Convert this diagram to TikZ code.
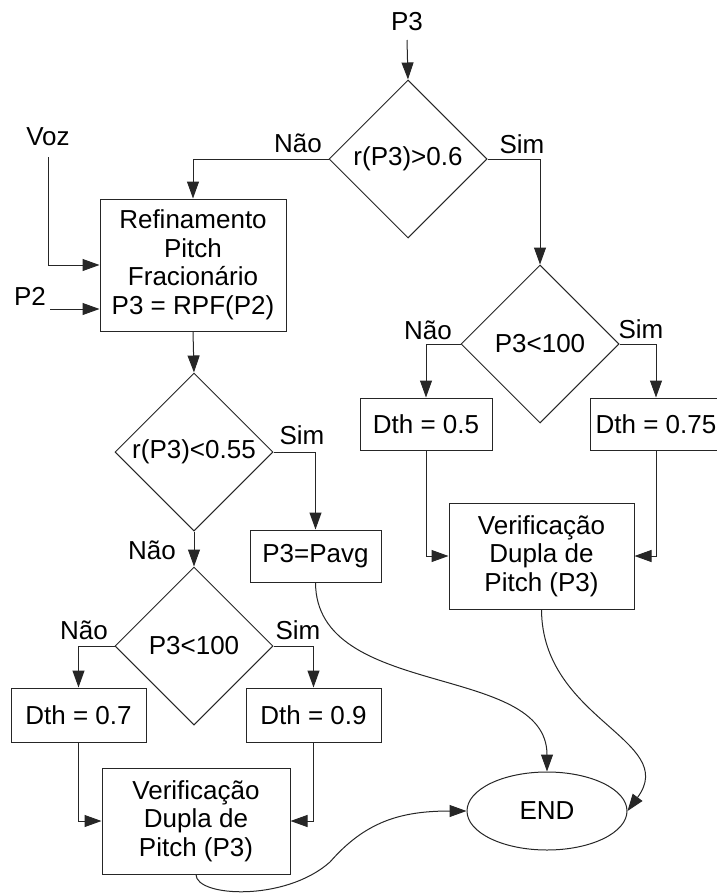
\documentclass[tikz,border=0pt]{standalone}
\usepackage{fontspec}
\setmainfont{Liberation Sans}
\usetikzlibrary{shapes.geometric,arrows.meta}
\begin{document}
\begin{tikzpicture}[x=1pt,y=-1pt,
  every node/.style={font=\fontsize{26}{28.5}\selectfont},
  ln/.style={draw=black!85,line width=1pt},
  arr/.style={ln,-{Triangle[length=17pt,width=12pt]}},
  dec/.style={diamond,ln,aspect=1,inner sep=0pt,minimum width=158pt,minimum height=158pt},
  blk/.style={rectangle,ln,inner sep=0pt,align=center},
  lbl/.style={anchor=base,inner sep=0pt}]
\useasboundingbox (0,0) rectangle (717,894);

% decisions
\node[dec] (d1) at (408,159) {r(P3)>0.6};
\node[dec] (d2) at (540,344) {P3<100};
\node[dec] (d3) at (194,452) {r(P3)<0.55};
\node[dec] (d4) at (194,646) {P3<100};

% process boxes
\node[blk,minimum width=186pt,minimum height=132pt] (ref) at (193,265)
  {Refinamento\\Pitch\\Fracionário\\P3 = RPF(P2)};
\node[blk,minimum width=131pt,minimum height=52pt] (pavg) at (315.5,556) {P3=Pavg};
\node[blk,minimum width=135pt,minimum height=54pt] (dth07) at (78.5,715) {Dth = 0.7};
\node[blk,minimum width=135pt,minimum height=54pt] (dth09) at (313.5,715) {Dth = 0.9};
\node[blk,minimum width=188pt,minimum height=106pt] (ver1) at (196,821)
  {Verificação\\Dupla de\\Pitch (P3)};
\node[blk,minimum width=132pt,minimum height=52pt] (dth05) at (426,424) {Dth = 0.5};
\node[blk,minimum width=132pt,minimum height=52pt] (dth075) at (656,424) {Dth = 0.75};
\node[blk,minimum width=185pt,minimum height=106pt] (ver2) at (541.5,556)
  {Verificação\\Dupla de\\Pitch (P3)};
\node[ellipse,ln,minimum width=160pt,minimum height=78pt,inner sep=0pt] (fim) at (547,811) {END};

% inputs
\node[lbl] (p3in) at (407,30) {P3};
\node[lbl] (voz) at (48,145) {Voz};
\node[lbl] (p2) at (30,305) {P2};
\coordinate (p3s) at (407,40);
\coordinate (vozs) at (48,157);
\coordinate (p2s) at (50,309);

% branch labels
\node[lbl] (n1) at (298,152) {Não};
\node[lbl] (s1) at (522,153) {Sim};
\node[lbl] (n2) at (428,339) {Não};
\node[lbl] (s2) at (641,338) {Sim};
\node[lbl] (s3) at (302,444) {Sim};
\node[lbl] (n3) at (152,559) {Não};
\node[lbl] (n4) at (84,639) {Não};
\node[lbl] (s4) at (298,639) {Sim};

% straight connectors
\draw[arr] (p3s) -- (d1.north);
\draw[arr] (d1.west) -| (ref.north);
\draw[arr] (d1.east) -| (d2.north);
\draw[arr] (vozs) |- (ref.west);
\draw[arr] (p2s) -- (p2s -| ref.west);
\draw[arr] (ref.south) -- (d3.north);
\draw[arr] (d3.east) -| (pavg.north);
\draw[arr] (d3.south) -- (d4.north);
\draw[arr] (d4.west) -| (dth07.north);
\draw[arr] (d4.east) -| (dth09.north);
\draw[arr] (dth07.south) |- (ver1.west);
\draw[arr] (dth09.south) |- (ver1.east);
\draw[arr] (d2.west) -| (dth05.north);
\draw[arr] (d2.east) -| (dth075.north);
\draw[arr] (dth05.south) |- (ver2.west);
\draw[arr] (dth075.south) |- (ver2.east);

% curved connectors into END
\draw[arr] (pavg.south) .. controls (316,700) and (547,662) .. (fim.north);
\draw[arr] (ver2.south) .. controls (542,720) and (680,740) .. (fim.east);
\draw[arr] (ver1.south) .. controls (196,897) and (285,902) .. (330,862)
  .. controls (365,822) and (400,811) .. (fim.west);
\end{tikzpicture}
\end{document}
